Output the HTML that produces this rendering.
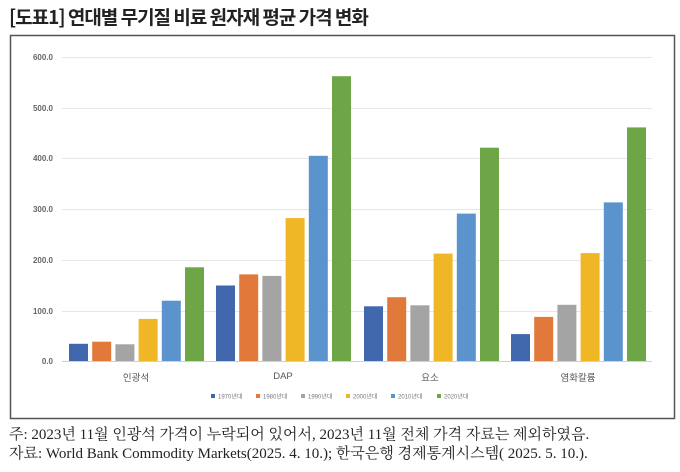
<!DOCTYPE html>
<html><head><meta charset="utf-8"><style>
html,body{margin:0;padding:0;background:#fff;width:680px;height:472px;overflow:hidden}
svg{display:block}
</style></head><body>
<svg width="680" height="472" xmlns="http://www.w3.org/2000/svg" font-family="'Liberation Sans','Noto Sans CJK KR',sans-serif">
<text x="9" y="24" font-size="19" font-weight="bold" fill="#222" font-family="'Noto Sans CJK KR',sans-serif" letter-spacing="-1">[도표1] 연대별 무기질 비료 원자재 평균 가격 변화</text>
<rect x="10.5" y="35.5" width="664" height="383" fill="#fff" stroke="#555" stroke-width="1.5"/>
<g stroke="#e6e6e6" stroke-width="1">
<line x1="62" x2="652" y1="57.5" y2="57.5"/><line x1="62" x2="652" y1="108.5" y2="108.5"/>
<line x1="62" x2="652" y1="158.5" y2="158.5"/><line x1="62" x2="652" y1="209.5" y2="209.5"/>
<line x1="62" x2="652" y1="260.5" y2="260.5"/><line x1="62" x2="652" y1="311.5" y2="311.5"/>
</g>
<line x1="62" x2="652" y1="361.5" y2="361.5" stroke="#d0d0d0"/>
<g font-size="8" fill="#666" text-anchor="end" font-weight="bold">
<text x="53" y="60">600.0</text><text x="53" y="111">500.0</text><text x="53" y="161">400.0</text>
<text x="53" y="212">300.0</text><text x="53" y="263">200.0</text><text x="53" y="314">100.0</text><text x="53" y="364">0.0</text>
</g>
<g>
<rect x="69" y="343.8" width="19" height="17.2" fill="#4167ad"/>
<rect x="92.2" y="341.7" width="19" height="19.3" fill="#e0793a"/>
<rect x="115.4" y="344.3" width="19" height="16.7" fill="#a4a4a4"/>
<rect x="138.6" y="318.9" width="19" height="42.1" fill="#efb626"/>
<rect x="161.8" y="300.7" width="19" height="60.3" fill="#5b93cc"/>
<rect x="185" y="267.3" width="19" height="93.7" fill="#6ea647"/>

<rect x="216" y="285.5" width="19" height="75.5" fill="#4167ad"/>
<rect x="239.2" y="274.4" width="19" height="86.6" fill="#e0793a"/>
<rect x="262.4" y="275.9" width="19" height="85.1" fill="#a4a4a4"/>
<rect x="285.6" y="218.1" width="19" height="142.9" fill="#efb626"/>
<rect x="308.8" y="155.8" width="19" height="205.2" fill="#5b93cc"/>
<rect x="332" y="76.2" width="19" height="284.8" fill="#6ea647"/>

<rect x="364" y="306.3" width="19" height="54.7" fill="#4167ad"/>
<rect x="387.2" y="297.2" width="19" height="63.8" fill="#e0793a"/>
<rect x="410.4" y="305.3" width="19" height="55.7" fill="#a4a4a4"/>
<rect x="433.6" y="253.6" width="19" height="107.4" fill="#efb626"/>
<rect x="456.8" y="213.6" width="19" height="147.4" fill="#5b93cc"/>
<rect x="480" y="147.7" width="19" height="213.3" fill="#6ea647"/>

<rect x="511" y="334.1" width="19" height="26.9" fill="#4167ad"/>
<rect x="534.2" y="316.9" width="19" height="44.1" fill="#e0793a"/>
<rect x="557.4" y="304.8" width="19" height="56.2" fill="#a4a4a4"/>
<rect x="580.6" y="253.1" width="19" height="107.9" fill="#efb626"/>
<rect x="603.8" y="202.4" width="19" height="158.6" fill="#5b93cc"/>
<rect x="627" y="127.4" width="19" height="233.6" fill="#6ea647"/>
</g>
<g font-size="9.5" fill="#555" text-anchor="middle">
<text x="136" y="381">인광석</text><text x="283" y="379">DAP</text><text x="430" y="381">요소</text><text x="578" y="381">염화칼륨</text>
</g>
<g font-size="6" fill="#777">
<rect x="211" y="394" width="4" height="4" fill="#4167ad"/><text x="218" y="398.5">1970년대</text>
<rect x="256" y="394" width="4" height="4" fill="#e0793a"/><text x="263" y="398.5">1980년대</text>
<rect x="301" y="394" width="4" height="4" fill="#a4a4a4"/><text x="308" y="398.5">1990년대</text>
<rect x="346" y="394" width="4" height="4" fill="#efb626"/><text x="353" y="398.5">2000년대</text>
<rect x="391" y="394" width="4" height="4" fill="#5b93cc"/><text x="398" y="398.5">2010년대</text>
<rect x="437" y="394" width="4" height="4" fill="#6ea647"/><text x="444" y="398.5">2020년대</text>
</g>
<g font-size="15" fill="#222" font-family="'Liberation Serif','Noto Serif CJK SC',serif">
<text x="9" y="439">주: 2023년 11월 인광석 가격이 누락되어 있어서, 2023년 11월 전체 가격 자료는 제외하였음.</text>
<text x="9" y="458">자료: World Bank Commodity Markets(2025. 4. 10.); 한국은행 경제통계시스템( 2025. 5. 10.).</text>
</g>
</svg>
</body></html>
